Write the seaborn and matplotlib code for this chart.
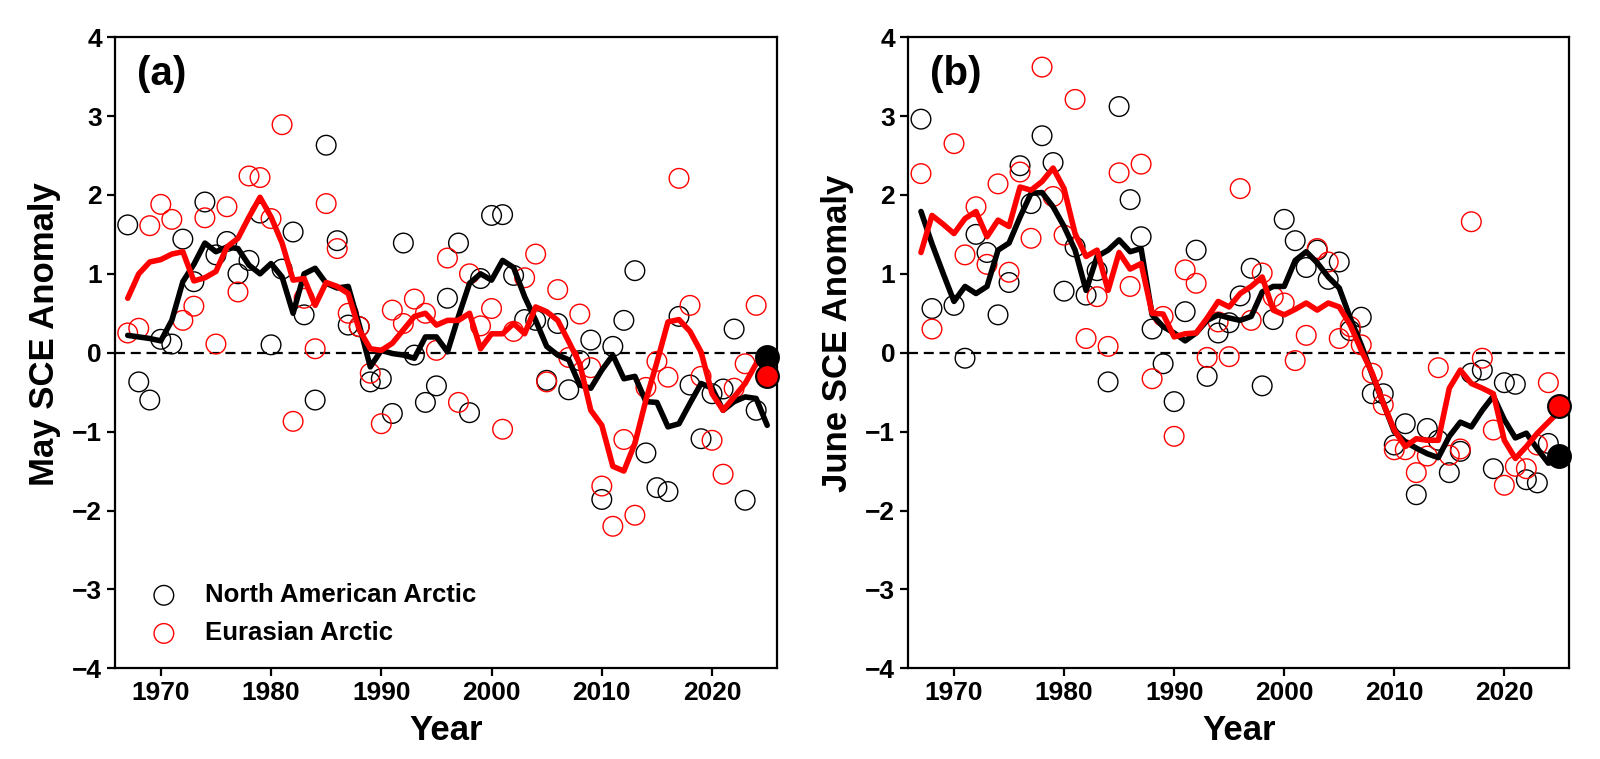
import numpy as np
import matplotlib
matplotlib.use('Agg')
import matplotlib.pyplot as plt
import seaborn as sns

sns.set_style('ticks')
plt.rcParams['font.family'] = ['Liberation Sans', 'DejaVu Sans']
plt.rcParams['font.weight'] = 'bold'
plt.rcParams['axes.labelweight'] = 'bold'
plt.rcParams['text.color'] = 'black'
plt.rcParams['axes.labelcolor'] = 'black'
plt.rcParams['axes.edgecolor'] = 'black'
plt.rcParams['xtick.color'] = 'black'
plt.rcParams['ytick.color'] = 'black'

years = np.arange(1967, 2026)

### May (panel a) - yearly anomalies
na_may = [1.62, -0.37, -0.60, 0.17, 0.11, 1.44, 0.90, 1.91, 1.24, 1.41,
          1.00, 1.17, 1.77, 0.10, 1.06, 1.53, 0.48, -0.60, 2.63, 1.42,
          0.35, 0.33, -0.37, -0.33, -0.77, 1.39, -0.03, -0.63, -0.42, 0.69,
          1.39, -0.76, 0.94, 1.74, 1.75, 0.98, 0.42, 0.41, -0.35, 0.37,
          -0.47, -0.10, 0.16, -1.86, 0.08, 0.41, 1.04, -1.27, -1.71, -1.76,
          0.46, -0.41, -1.09, -0.52, -0.46, 0.30, -1.87, -0.73, -0.06]
ea_may = [0.25, 0.31, 1.61, 1.88, 1.69, 0.41, 0.59, 1.71, 0.11, 1.85,
          0.77, 2.24, 2.22, 1.70, 2.89, -0.87, 0.69, 0.05, 1.89, 1.32,
          0.50, 0.33, -0.26, -0.90, 0.54, 0.37, 0.68, 0.50, 0.03, 1.20,
          -0.63, 1.00, 0.34, 0.56, -0.97, 0.27, 0.95, 1.25, -0.37, 0.80,
          -0.06, 0.49, -0.19, -1.69, -2.20, -1.10, -2.06, -0.44, -0.11, -0.31,
          2.21, 0.60, -0.30, -1.11, -1.54, -0.45, -0.14, 0.60, -0.30]

### May running-mean curves
na_may_line = [0.22, 0.20, 0.18, 0.15, 0.41, 0.90, 1.12, 1.39, 1.28, 1.34,
               1.32, 1.11, 1.00, 1.13, 0.96, 0.50, 1.00, 1.07, 0.88, 0.82,
               0.84, 0.35, -0.18, 0.03, -0.01, -0.03, -0.07, 0.20, 0.20, 0.01,
               0.46, 0.88, 1.00, 0.92, 1.17, 1.08, 0.71, 0.41, 0.08, -0.03,
               -0.09, -0.41, -0.45, -0.22, -0.03, -0.33, -0.30, -0.62, -0.63, -0.94,
               -0.90, -0.64, -0.39, -0.45, -0.73, -0.62, -0.56, -0.58, -0.92]
ea_may_line = [0.69, 1.00, 1.15, 1.18, 1.25, 1.28, 0.91, 0.95, 1.03, 1.34,
               1.45, 1.72, 1.97, 1.72, 1.39, 0.92, 0.94, 0.60, 0.89, 0.84,
               0.75, 0.29, 0.05, 0.03, 0.12, 0.29, 0.46, 0.50, 0.35, 0.41,
               0.41, 0.50, 0.05, 0.24, 0.24, 0.37, 0.24, 0.58, 0.52, 0.41,
               0.14, -0.14, -0.73, -0.92, -1.44, -1.50, -1.15, -0.60, -0.12, 0.39,
               0.42, 0.27, 0.01, -0.52, -0.73, -0.56, -0.39, -0.14, 0.05]

### June (panel b)
na_jun = [2.96, 0.56, np.nan, 0.60, -0.07, 1.50, 1.27, 0.48, 0.89, 2.37,
          1.89, 2.75, 2.41, 0.78, 1.34, 0.73, 1.04, -0.37, 3.12, 1.94,
          1.47, 0.30, -0.14, -0.62, 0.52, 1.30, -0.30, 0.25, 0.38, 0.72,
          1.07, -0.42, 0.42, 1.69, 1.42, 1.08, 1.30, 0.93, 1.15, 0.28,
          0.45, -0.52, -0.52, -1.17, -0.90, -1.80, -0.96, -1.11, -1.52, -1.25,
          -0.26, -0.22, -1.47, -0.38, -0.40, -1.61, -1.65, -1.15, -1.31]
ea_jun = [2.27, 0.30, np.nan, 2.65, 1.24, 1.85, 1.12, 2.14, 1.02, 2.29,
          1.45, 3.62, 1.98, 1.49, 3.21, 0.18, 0.71, 0.08, 2.28, 0.84,
          2.39, -0.33, 0.46, -1.06, 1.05, 0.88, -0.06, 0.39, -0.05, 2.08,
          0.41, 1.01, 0.71, 0.63, -0.10, 0.22, 1.32, 1.15, 0.18, 0.33,
          0.10, -0.26, -0.66, -1.23, -1.23, -1.52, -1.31, -0.19, -1.30, -1.22,
          1.66, -0.07, -0.98, -1.68, -1.44, -1.47, -1.17, -0.38, -0.68]

na_jun_line = [1.79, 1.38, 1.01, 0.65, 0.84, 0.75, 0.84, 1.30, 1.39, 1.72,
               2.02, 2.03, 1.85, 1.60, 1.30, 0.79, 1.22, 1.30, 1.43, 1.28,
               1.32, 0.48, 0.33, 0.25, 0.15, 0.25, 0.41, 0.48, 0.44, 0.41,
               0.46, 0.77, 0.84, 0.84, 1.17, 1.28, 1.14, 0.96, 0.82, 0.44,
               0.10, -0.28, -0.64, -1.00, -1.13, -1.21, -1.28, -1.33, -1.06, -0.88,
               -0.94, -0.73, -0.55, -0.85, -1.08, -1.02, -1.22, -1.40, -1.36]
ea_jun_line = [1.27, 1.74, 1.63, 1.51, 1.70, 1.79, 1.47, 1.68, 1.60, 2.10,
               2.06, 2.17, 2.34, 2.08, 1.51, 1.22, 1.30, 0.79, 1.27, 1.06,
               1.13, 0.50, 0.49, 0.20, 0.24, 0.25, 0.44, 0.65, 0.58, 0.75,
               0.84, 0.96, 0.54, 0.48, 0.55, 0.63, 0.54, 0.63, 0.58, 0.35,
               0.03, -0.26, -0.64, -0.98, -1.19, -1.09, -1.11, -1.11, -0.45, -0.22,
               -0.39, -0.45, -0.52, -1.11, -1.34, -1.19, -1.02, -0.88, -0.74]

panels = [('(a)', 'May SCE Anomaly', na_may, ea_may, na_may_line, ea_may_line),
          ('(b)', 'June SCE Anomaly', na_jun, ea_jun, na_jun_line, ea_jun_line)]

fig = plt.figure(figsize=(16, 7.59), dpi=100)
ax_a = fig.add_axes([0.0719, 0.1195, 0.4138, 0.8316])
ax_b = fig.add_axes([0.5677, 0.1195, 0.4131, 0.8316])

for ax, (tag, ylab, na, ea, na_ln, ea_ln) in zip([ax_a, ax_b], panels):
    na = np.array(na, dtype=float)
    ea = np.array(ea, dtype=float)

    ax.axhline(0, color='black', lw=1.6, ls=(0, (4.5, 2.6)), zorder=1)

    # yearly values as open rings (last year drawn filled below)
    sns.scatterplot(x=years[:-1], y=na[:-1], s=200, facecolors='none',
                    edgecolor='black', linewidth=1.0, ax=ax, zorder=2,
                    label='North American Arctic')
    sns.scatterplot(x=years[:-1], y=ea[:-1], s=200, facecolors='none',
                    edgecolor='red', linewidth=1.0, ax=ax, zorder=2,
                    label='Eurasian Arctic')

    sns.lineplot(x=years, y=na_ln, color='black', linewidth=4, ax=ax, zorder=3)
    sns.lineplot(x=years, y=ea_ln, color='red', linewidth=4, ax=ax, zorder=4)

    # most recent year
    sns.scatterplot(x=years[-1:], y=na[-1:], s=270, color='black',
                    edgecolor='black', linewidth=1.5, ax=ax, zorder=5, clip_on=False)
    sns.scatterplot(x=years[-1:], y=ea[-1:], s=270, color='red',
                    edgecolor='black', linewidth=1.5, ax=ax, zorder=6, clip_on=False)

    ax.set_xlim(1965.85, 2025.9)
    ax.set_ylim(-4, 4)
    ax.set_xticks(range(1970, 2021, 10))
    ax.set_yticks(range(-4, 5))
    ax.set_yticklabels(['\u22124', '\u22123', '\u22122', '\u22121', '0', '1', '2', '3', '4'])
    ax.tick_params(labelsize=19, width=1.6, length=6, direction='out', colors='black')
    for lbl in ax.get_xticklabels() + ax.get_yticklabels():
        lbl.set_fontweight('bold')
    for sp in ax.spines.values():
        sp.set_visible(True)
        sp.set_linewidth(1.6)
        sp.set_color('black')

    ax.set_xlabel('Year', fontsize=25, fontweight='bold', labelpad=6)
    ax.set_ylabel(ylab, fontsize=25, fontweight='bold')
    ax.yaxis.set_label_coords(-0.082, 0.53)
    ax.text(0.033, 0.942, tag, transform=ax.transAxes, fontsize=29,
            fontweight='bold', va='center', ha='left')

    if ax is ax_a:
        ax.legend(loc='lower left', bbox_to_anchor=(0.0, 0.0), frameon=False,
                  handletextpad=0.6, labelspacing=0.55,
                  prop={'weight': 'bold', 'size': 18.5})
    else:
        ax.get_legend().remove()

fig.savefig('out.png', dpi=100)
